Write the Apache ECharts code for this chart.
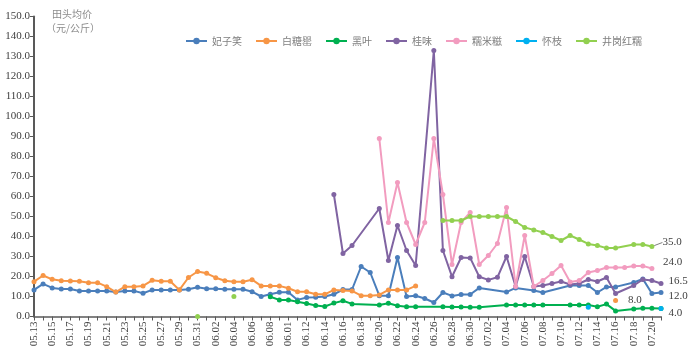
<!DOCTYPE html>
<html><head><meta charset="utf-8">
<script src="https://cdn.jsdelivr.net/npm/echarts@6/dist/echarts.min.js"></script>
<style>html,body{margin:0;padding:0;background:#fff}#c{width:692px;height:360px}</style>
</head><body><div id="c"></div>
<script>
// categories (tick labels as printed, incl. "06.01" at the 06.10 slot)
var dates = ['05.13','05.14','05.15','05.16','05.17','05.18','05.19','05.20','05.21','05.22','05.23','05.24','05.25','05.26','05.27','05.28','05.29','05.30','05.31',
 '06.01','06.02','06.03','06.04','06.05','06.06','06.07','06.08','06.09','06.01','06.11','06.12','06.13','06.14','06.15','06.16','06.17','06.18','06.19','06.20',
 '06.21','06.22','06.23','06.24','06.25','06.26','06.27','06.28','06.29','06.30','07.01','07.02','07.03','07.04','07.05','07.06','07.07','07.08','07.09','07.10',
 '07.11','07.12','07.13','07.14','07.15','07.16','07.17','07.18','07.19','07.20','07.21'];
var _ = null;
// 妃子笑
var feizixiao = [13.3,16.3,14.3,13.8,13.8,12.8,12.8,12.8,12.8,12.2,12.8,12.8,11.6,13.3,13.3,13.3,13.3,13.6,14.6,
 13.9,13.9,13.6,13.6,13.6,12.4,10.0,11.1,12.1,12.1,8.3,9.5,9.6,10.0,11.1,13.5,13.5,25.0,22.0,10.4,
 10.4,29.5,10.0,10.4,9.0,7.0,12.0,10.3,11.0,11.0,14.3,_,_,12.2,14.3,_,13.0,12.0,_,_,
 15.5,15.5,15.5,12.0,14.8,14.8,_,17.0,18.8,11.5,12.0];
// 白糖罂
var baitangying = [17.4,20.5,18.6,17.9,17.8,17.6,16.9,16.9,14.9,12.2,14.9,14.9,15.3,18.1,17.6,17.6,13.3,19.5,22.5,
 21.6,19.4,17.9,17.4,17.4,18.4,15.3,15.3,15.3,14.1,12.4,12.4,11.1,11.1,13.3,13.0,12.8,10.4,10.4,10.8,
 13.3,13.3,13.3,15.3,_,_,_,_,_,_,_,_,_,_,_,_,_,_,_,_,
 _,_,_,_,_,8.0,_,_,_,_,_];
// 黑叶
var heiye = [_,_,_,_,_,_,_,_,_,_,_,_,_,_,_,_,_,_,_,
 _,_,_,_,_,_,_,9.9,8.3,8.3,7.4,6.5,5.5,5.0,6.7,7.9,6.3,_,_,5.8,
 6.6,5.4,4.9,4.9,_,_,4.9,4.8,4.7,4.6,4.6,_,_,5.7,5.7,5.7,5.7,5.7,_,_,
 5.7,5.7,5.7,4.9,6.2,2.8,_,3.8,4.1,4.1,4.0];
// 桂味
var guiwei = [_,_,_,_,_,_,_,_,_,_,_,_,_,_,_,_,_,_,_,
 _,_,_,_,_,_,_,_,_,_,_,_,_,_,61.0,31.5,35.5,_,_,54.0,
 28.0,45.5,33.0,25.5,_,133.0,33.0,19.9,29.5,29.3,19.9,18.3,19.6,30.0,15.0,30.0,15.0,15.5,16.5,17.5,
 16.0,16.5,18.5,17.5,19.5,11.5,_,15.5,18.5,18.0,16.5];
// 糯米糍
var nuomici = [_,_,_,_,_,_,_,_,_,_,_,_,_,_,_,_,_,_,_,
 _,_,_,_,_,_,_,_,_,_,_,_,_,_,_,_,_,_,_,89.0,
 47.0,67.0,47.0,36.0,47.0,89.0,61.0,26.0,47.0,52.0,26.0,30.5,36.5,54.5,15.0,40.5,15.0,18.0,21.5,25.5,
 17.2,18.0,22.0,23.0,24.5,24.5,24.5,25.3,25.3,24.0,_];
// 怀枝
var huaizhi = [_,_,_,_,_,_,_,_,_,_,_,_,_,_,_,_,_,_,_,
 _,_,_,_,_,_,_,_,_,_,_,_,_,_,_,_,_,_,_,_,
 _,_,_,_,_,_,_,_,_,_,_,_,_,_,_,_,_,_,_,_,
 _,_,4.6,_,_,_,_,_,_,_,4.0];
// 井岗红糯
var jinggang = [_,_,_,_,_,_,_,_,_,_,_,_,_,_,_,_,_,_,0.0,
 _,_,_,10.0,_,_,_,_,_,_,_,_,_,_,_,_,_,_,_,_,
 _,_,_,_,_,_,48.0,48.0,48.0,50.0,50.0,50.0,50.0,50.0,47.5,44.5,43.3,42.0,40.0,38.0,
 40.5,38.5,36.3,35.5,34.2,34.2,_,36.0,36.0,35.0,_];

var names = ['妃子笑','白糖罂','黑叶','桂味','糯米糍','怀枝','井岗红糯'];
var values = [feizixiao, baitangying, heiye, guiwei, nuomici, huaizhi, jinggang];
var colors = ['#4A7EBB','#F79646','#00B050','#8064A2','#F29CBF','#00B0F0','#92D050'];
// end-label styling (offset from point) per series; null = no label
var endLabelOffsets = [[5,3.5],[10,0],[5,5],[5,-2],[8.5,-6],null,[0,0]];

function segments(arr){
  var segs=[], cur=[], last=-99;
  arr.forEach(function(v,i){
    if(v==null) return;
    if(cur.length && i-last>3){segs.push(cur);cur=[];}
    cur.push([i,v]); last=i;
  });
  if(cur.length) segs.push(cur);
  return segs;
}

var series=[];
names.forEach(function(n,k){
  var segs=segments(values[k]);
  segs.forEach(function(seg,si){
    var data=seg.map(function(p){return {value:p};});
    var s={type:'line',name:n,data:data,symbol:'circle',symbolSize:5,showAllSymbol:true,
      itemStyle:{color:colors[k]},lineStyle:{color:colors[k],width:2},
      emphasis:{disabled:true},animation:false,z:2+k};
    if(si===segs.length-1 && endLabelOffsets[k]){
      var lp=data[data.length-1];
      lp.label={show:true,position:'right',distance:0,offset:endLabelOffsets[k],
        formatter:function(p){return p.value[1].toFixed(1);},
        fontFamily:'Liberation Serif',fontSize:11,color:'#404040'};
      if(n==='井岗红糯'){
        s.labelLine={show:true,lineStyle:{color:'#7f7f7f',width:1}};
        s.labelLayout={dx:8,dy:-4};
      }
    }
    series.push(s);
  });
});

var chart=echarts.init(document.getElementById('c'));
chart.setOption({
  backgroundColor:'#fff',
  animation:false,
  grid:{left:34,right:31,top:16.5,bottom:43.5},
  legend:{data:names,left:180,top:31,itemWidth:21,itemHeight:8,itemGap:13,
    textStyle:{fontSize:10,color:'#7f7f7f',fontFamily:'Noto Sans CJK SC'}},
  xAxis:{type:'category',data:dates,boundaryGap:false,
    axisLine:{lineStyle:{color:'#595959',width:1.5}},
    axisTick:{interval:0,length:4,lineStyle:{color:'#595959'}},
    axisLabel:{interval:1,rotate:90,fontFamily:'Liberation Serif',fontSize:11,color:'#404040',margin:5}},
  yAxis:{type:'value',min:0,max:150,interval:10,
    axisLine:{show:true,lineStyle:{color:'#595959',width:2}},
    axisTick:{show:true,length:4,lineStyle:{color:'#595959'}},
    splitLine:{show:false},
    axisLabel:{formatter:function(v){return v.toFixed(1);},fontFamily:'Liberation Serif',fontSize:11,color:'#404040',margin:4}},
  graphic:[
    {type:'text',left:52,top:9,style:{text:'田头均价',fontSize:10,fill:'#8c8c8c',fontFamily:'Noto Sans CJK SC'}},
    {type:'text',left:46,top:23,style:{text:'（元/公斤）',fontSize:10,fill:'#8c8c8c',fontFamily:'Noto Sans CJK SC'}}
  ],
  series:series
});
</script></body></html>
